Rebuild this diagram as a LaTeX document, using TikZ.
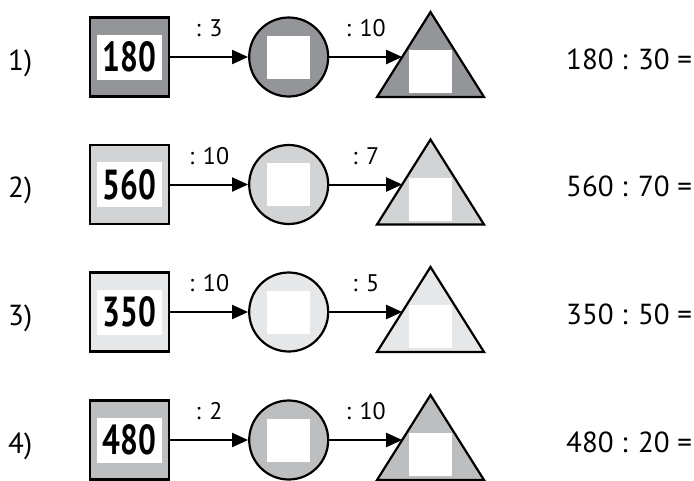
\documentclass[tikz,border=0pt]{standalone}
\usepackage{fontspec}
\setmainfont{PT Sans}
\newfontfamily\narrowsans[FakeStretch=0.75]{PT Sans}
\usetikzlibrary{positioning, arrows.meta, calc}
\definecolor{shadeA}{HTML}{939598}
\definecolor{shadeB}{HTML}{D1D3D4}
\definecolor{shadeC}{HTML}{E6E7E8}
\definecolor{shadeD}{HTML}{BCBEC0}

\begin{document}
\begin{tikzpicture}[
    x=1pt, y=-1pt,
    sqbox/.style={draw, line width=2.2pt, minimum size=79pt, inner sep=0pt},
    numbox/.style={fill=white, minimum width=65pt, minimum height=45pt, inner sep=0pt,
                   font=\narrowsans\bfseries\fontsize{42}{42}\selectfont},
    circ/.style={circle, draw, line width=2.2pt, minimum size=79pt, inner sep=0pt},
    blank/.style={fill=white, minimum size=43pt, inner sep=0pt},
    tri/.style={draw, line width=2.2pt, line join=miter},
    arr/.style={-{Triangle[length=16pt, width=14pt]}, line width=2pt},
    op/.style={inner sep=0pt, above=19pt, font=\fontsize{24}{24}\selectfont},
    idx/.style={anchor=base west, inner sep=0pt, font=\fontsize{29}{29}\selectfont},
    eq/.style={anchor=base west, inner sep=0pt, font=\fontsize{29}{29}\selectfont},
]
\useasboundingbox (0,0) rectangle (694,480);

% row 1
\node[idx] (i1) at (8,70) {1)};
\node[sqbox, fill=shadeA] (sq1) at (129.5,57) {};
\node[numbox] (n1) at (sq1) {180};
\node[circ, fill=shadeA, right=78pt of sq1] (ci1) {};
\node[blank] (b1) at (ci1) {};
\coordinate (t1) at (430.5,57);
\draw[tri, fill=shadeA] ($(t1)+(0,-45)$) -- ($(t1)+(53.5,40)$) -- ($(t1)+(-53.5,40)$) -- cycle;
\node[blank] (w1) at ($(t1)+(0,14.5)$) {};
\coordinate (in1) at ($(t1)+(-28.3,0)$);
\draw[arr] (sq1) -- node[op] {: 3} (ci1);
\draw[arr] (ci1) -- node[op] {: 10} (in1);
\node[eq] (e1) at (566,69) {180 : 30 =};

% row 2
\node[idx] (i2) at (8,197.5) {2)};
\node[sqbox, fill=shadeB] (sq2) at (129.5,184.5) {};
\node[numbox] (n2) at (sq2) {560};
\node[circ, fill=shadeB, right=78pt of sq2] (ci2) {};
\node[blank] (b2) at (ci2) {};
\coordinate (t2) at (430.5,184.5);
\draw[tri, fill=shadeB] ($(t2)+(0,-45)$) -- ($(t2)+(53.5,40)$) -- ($(t2)+(-53.5,40)$) -- cycle;
\node[blank] (w2) at ($(t2)+(0,14.5)$) {};
\coordinate (in2) at ($(t2)+(-28.3,0)$);
\draw[arr] (sq2) -- node[op] {: 10} (ci2);
\draw[arr] (ci2) -- node[op] {: 7} (in2);
\node[eq] (e2) at (566,196.5) {560 : 70 =};

% row 3
\node[idx] (i3) at (8,325) {3)};
\node[sqbox, fill=shadeC] (sq3) at (129.5,312) {};
\node[numbox] (n3) at (sq3) {350};
\node[circ, fill=shadeC, right=78pt of sq3] (ci3) {};
\node[blank] (b3) at (ci3) {};
\coordinate (t3) at (430.5,312);
\draw[tri, fill=shadeC] ($(t3)+(0,-45)$) -- ($(t3)+(53.5,40)$) -- ($(t3)+(-53.5,40)$) -- cycle;
\node[blank] (w3) at ($(t3)+(0,14.5)$) {};
\coordinate (in3) at ($(t3)+(-28.3,0)$);
\draw[arr] (sq3) -- node[op] {: 10} (ci3);
\draw[arr] (ci3) -- node[op] {: 5} (in3);
\node[eq] (e3) at (566,324) {350 : 50 =};

% row 4
\node[idx] (i4) at (8,453) {4)};
\node[sqbox, fill=shadeD] (sq4) at (129.5,440) {};
\node[numbox] (n4) at (sq4) {480};
\node[circ, fill=shadeD, right=78pt of sq4] (ci4) {};
\node[blank] (b4) at (ci4) {};
\coordinate (t4) at (430.5,440);
\draw[tri, fill=shadeD] ($(t4)+(0,-45)$) -- ($(t4)+(53.5,40)$) -- ($(t4)+(-53.5,40)$) -- cycle;
\node[blank] (w4) at ($(t4)+(0,14.5)$) {};
\coordinate (in4) at ($(t4)+(-28.3,0)$);
\draw[arr] (sq4) -- node[op] {: 2} (ci4);
\draw[arr] (ci4) -- node[op] {: 10} (in4);
\node[eq] (e4) at (566,452) {480 : 20 =};

\end{tikzpicture}
\end{document}
